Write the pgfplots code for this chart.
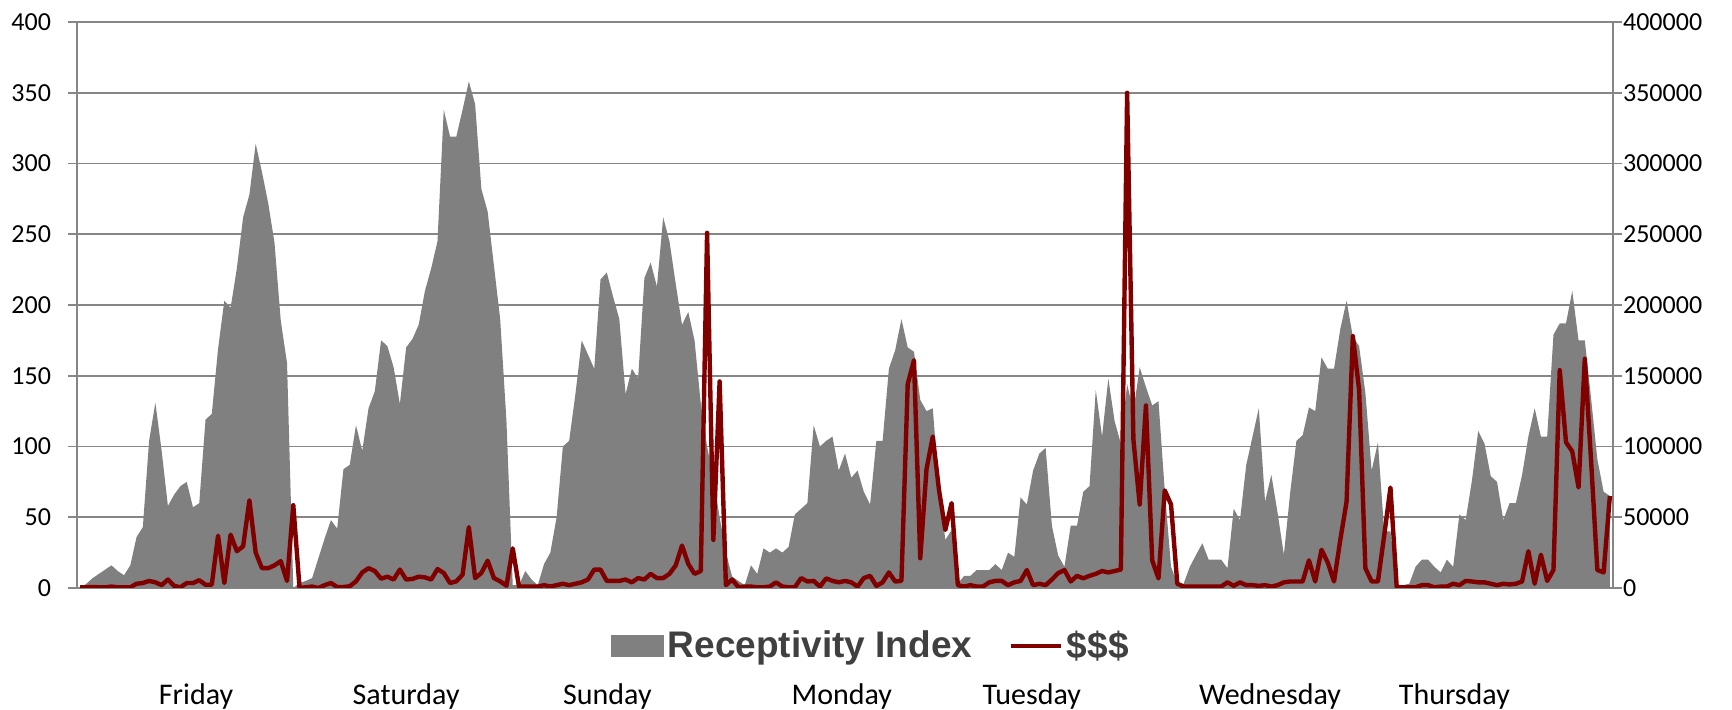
\documentclass[border=0pt]{standalone}
\usepackage{pgfplots}
\pgfplotsset{compat=1.18}
\usepackage{pgfplotstable}
\usepackage{fontspec}
\setmainfont{Carlito}
\newfontfamily\legfont{Liberation Sans}
\definecolor{gridgrey}{RGB}{134,134,134}
\definecolor{areagrey}{RGB}{128,128,128}
\definecolor{usdred}{RGB}{128,0,0}
\definecolor{legtext}{RGB}{64,64,64}

\pgfplotstableread[row sep=\\]{
area usd\\
0 500\\ 3 500\\ 7 700\\ 10 500\\ 13 500\\ 16 1000\\ 12 500\\ 9 500\\ 16 500\\ 36 3000\\ 43 3500\\ 104 5000\\ 131 4000\\ 97 2000\\ 58 6000\\ 66 1500\\ 72 500\\ 75 3500\\ 57 3500\\ 60 5500\\ 119 2300\\ 123 2300\\ 169 37000\\ 203 3500\\ 198 37700\\ 226 26000\\ 262 29500\\ 278 62000\\ 314 25000\\ 294 14000\\ 272 14000\\ 244 16000\\ 189 19000\\ 159 5000\\ 0 58500\\
3.5 0\\ 5 500\\ 7 1000\\ 21 0\\ 35 2000\\ 48 3500\\ 42 700\\ 84 700\\ 87 1200\\ 115 4700\\ 97 11000\\ 127 14000\\ 139 12000\\ 175 6600\\ 171 8000\\ 156 6000\\ 130 13000\\ 170 6000\\ 176 6400\\ 186 8000\\ 210 7500\\ 226 6000\\ 245 13400\\ 338 10600\\ 319 3500\\ 319 4700\\ 338 9400\\ 358 43000\\ 342 7000\\ 282 10600\\ 266 19300\\ 228 7000\\ 190 4700\\ 118 1600\\ 2 28000\\
2 1000\\ 12 1000\\ 6 1000\\ 2 1000\\ 17 2000\\ 25 1000\\ 50 2000\\ 100 3000\\ 104 2000\\ 137 3000\\ 175 4000\\ 165 6000\\ 155 13000\\ 218 13000\\ 223 5000\\ 206 5000\\ 190 5000\\ 137 6000\\ 155 4000\\ 148 7000\\ 219 6000\\ 230 10000\\ 213 7000\\ 262 7000\\ 245 10000\\ 215 16000\\ 186 30000\\ 195 17000\\ 175 10000\\ 130 12000\\ 100 251000\\ 78 34000\\ 50 146000\\ 25 2000\\ 8 6000\\
5 500\\ 2 1000\\ 16 1000\\ 10 500\\ 28 500\\ 25 1000\\ 28 4000\\ 25 1000\\ 29 500\\ 52 500\\ 56 7000\\ 60 4600\\ 115 5000\\ 100 1000\\ 104 6800\\ 107 5000\\ 83 4000\\ 95 5000\\ 78 4000\\ 83 1000\\ 68 7000\\ 59 8600\\ 104 1500\\ 104 4000\\ 155 11000\\ 168 4600\\ 190 5000\\ 170 144000\\ 167 161000\\ 133 21000\\ 125 84000\\ 127 107000\\ 70 69000\\ 34 41000\\ 41 60000\\
3 2000\\ 8.6 1000\\ 8.6 2000\\ 12.7 1000\\ 12.7 1000\\ 12.7 4000\\ 16.8 5000\\ 12.7 5000\\ 25 2000\\ 22 4000\\ 64 5000\\ 59 12700\\ 83 2000\\ 95 3000\\ 99 2000\\ 44 6000\\ 23 10500\\ 15 12700\\ 44 4600\\ 44 8600\\ 68 6800\\ 72 8600\\ 140 10000\\ 107 12000\\ 148 11000\\ 118 12000\\ 102 13000\\ 144 350000\\ 125 105000\\ 156 59000\\ 142 129000\\ 129 19500\\ 132 6800\\ 69 69000\\ 15 59000\\
3 3000\\ 3 1000\\ 15 1000\\ 23.5 1000\\ 31.6 1000\\ 20 1000\\ 20 1000\\ 20 1000\\ 14 4000\\ 56 1500\\ 48 4000\\ 87 2000\\ 107 2000\\ 127 1500\\ 61 2000\\ 80 1000\\ 53 2000\\ 23.5 4000\\ 67 4600\\ 104 4600\\ 108 4600\\ 127.6 19500\\ 125 4600\\ 163 27000\\ 155 18000\\ 155 4600\\ 183 34000\\ 203 61000\\ 177.6 178000\\ 171 140000\\ 138 14000\\ 83 4600\\ 103 4600\\ 40 37000\\ 40 71000\\
2 500\\ 2 500\\ 3 500\\ 15 500\\ 20 2000\\ 20 2000\\ 15 500\\ 11 1000\\ 20 1000\\ 15 3000\\ 52 2000\\ 48 5000\\ 76 4600\\ 111 4000\\ 102 4000\\ 79 3000\\ 75 2000\\ 48 3000\\ 60 2500\\ 60 3000\\ 80 4600\\ 107 26000\\ 127 3000\\ 107 23500\\ 107 5000\\ 179 12700\\ 187 154000\\ 187 103000\\ 210 96500\\ 175 71000\\ 175 162000\\ 134 90000\\ 91 12700\\ 68 11000\\ 65 65000\\
}\datatable

\begin{document}
\begin{tikzpicture}
\path[use as bounding box] (0,0) rectangle (866pt,355pt);
\begin{axis}[
  at={(38.5pt,61pt)}, anchor=south west,
  scale only axis, width=768pt, height=283pt,
  xmin=-0.5, xmax=244.5, ymin=0, ymax=400,
  ytick={0,50,...,400}, ytick pos=left,
  tick align=outside, major tick length=4.5pt,
  ymajorgrids, grid style={gridgrey, line width=0.8pt},
  axis line style={gridgrey, line width=0.8pt},
  every tick/.style={gridgrey, line width=0.8pt},
  xtick={18.5,52,84.1,121.5,151.8,189.8,219.2},
  xticklabels={Friday,Saturday,Sunday,Monday,Tuesday,Wednesday,Thursday},
  xtick style={draw=none},
  xticklabel style={anchor=base, yshift=-54pt, font=\fontsize{15}{15}\selectfont, text=black},
  yticklabel style={font=\fontsize{13}{13}\selectfont, text=black, xshift=-5pt},
  /pgf/number format/assume math mode=true,
]
\addplot[fill=areagrey, draw=none] table[x expr=\coordindex, y=area] {\datatable} \closedcycle;
\end{axis}
\begin{axis}[
  at={(38.5pt,61pt)}, anchor=south west,
  scale only axis, width=768pt, height=283pt,
  xmin=-0.5, xmax=244.5, ymin=0, ymax=400000,
  axis x line=none, axis y line*=right,
  ytick={0,50000,...,400000},
  tick align=outside, major tick length=4.5pt,
  axis line style={gridgrey, line width=0.8pt},
  every tick/.style={gridgrey, line width=0.8pt},
  scaled y ticks=false,
  yticklabel style={font=\fontsize{13}{13}\selectfont, text=black, xshift=-3pt,
    /pgf/number format/fixed, /pgf/number format/set thousands separator={}},
  /pgf/number format/assume math mode=true,
  legend style={at={(0.5175,-0.1025)}, anchor=center, draw=none, fill=none,
    font=\legfont\bfseries\fontsize{18.5}{18.5}\selectfont, text=legtext,
    legend columns=2, /tikz/every even column/.append style={column sep=16.2pt},
    legend cell align=left},
  legend image code/.code={\draw[#1] (0pt,0pt) -- (25pt,0pt);},
]
\addlegendimage{legend image code/.code={\fill[areagrey] (0pt,-5.2pt) rectangle (26pt,5.3pt);}}
\addlegendentry{Receptivity Index}
\addplot[usdred, line width=2.2pt, line join=round] table[x expr=\coordindex, y=usd] {\datatable};
\addlegendentry{\$\$\$}
\end{axis}
\end{tikzpicture}
\end{document}
